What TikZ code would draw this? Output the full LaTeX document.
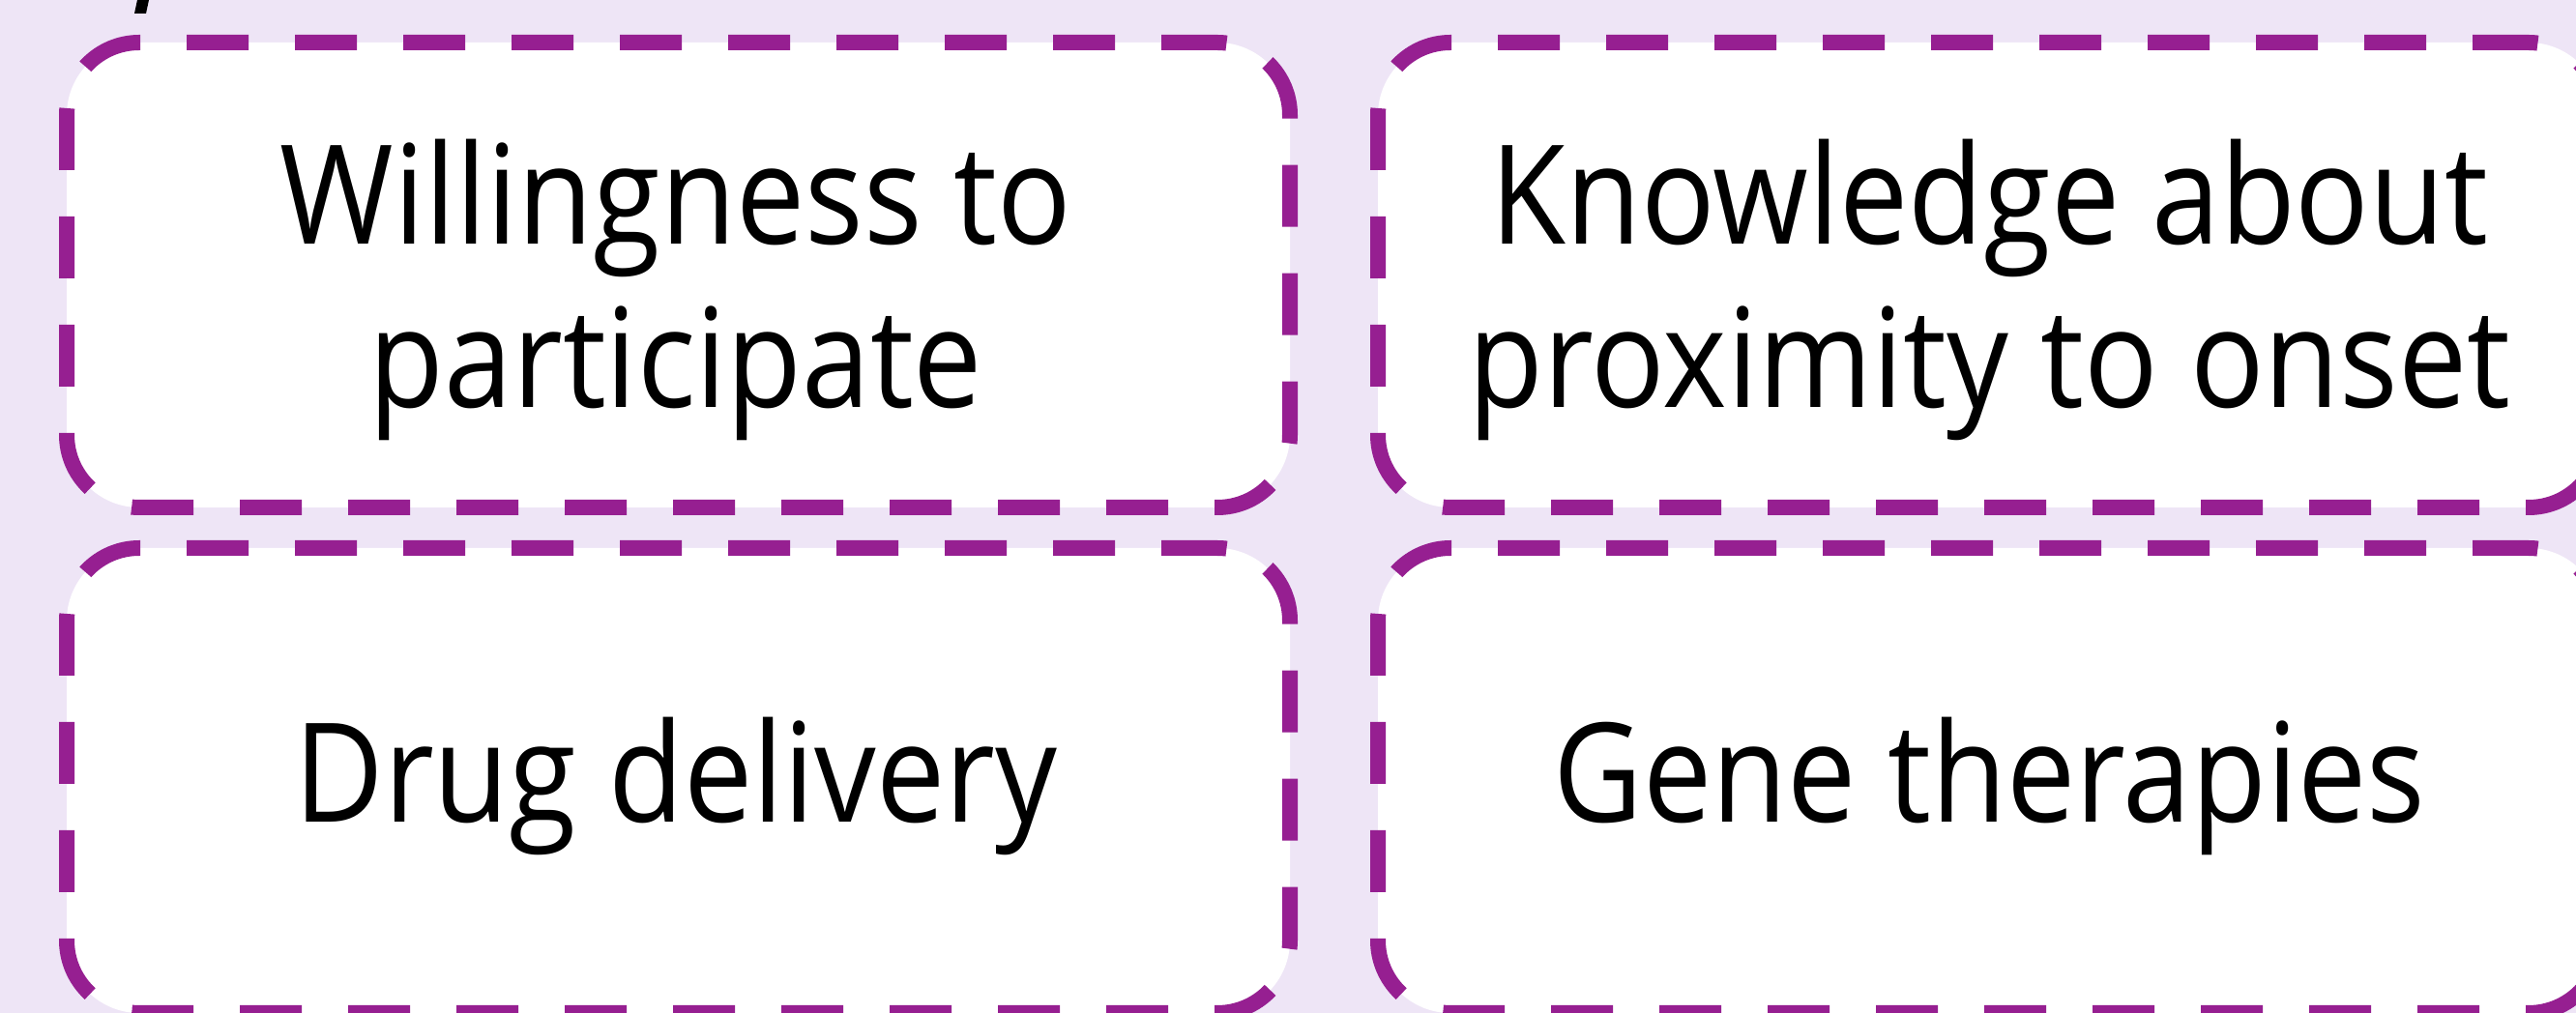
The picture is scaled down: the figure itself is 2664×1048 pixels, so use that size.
\documentclass[tikz,border=0pt]{standalone}
\usepackage{fontspec}
\setmainfont{Open Sans}[FakeStretch=0.89]
\definecolor{bgl}{RGB}{238,229,246}
\definecolor{pur}{RGB}{150,31,145}
\begin{document}
\begin{tikzpicture}[x=0.1mm,y=-0.1mm,
  cardbox/.style={draw=pur, fill=white, line width=1.6mm, rounded corners=7.5mm,
    dash pattern=on 6.4mm off 4.8mm, dash phase=0.62mm,
    minimum width=126.5mm, minimum height=48.1mm, inner sep=0pt, outer sep=0pt},
  cardtext/.style={anchor=base, align=center, inner sep=0pt, text=black,
    font=\fontsize{40.6}{48.2}\selectfont}]
\useasboundingbox (0,0) rectangle (2664,1048);
\fill[bgl] (0,0) rectangle (2664,1048);
\clip (0,0) rectangle (2664,1048);
\fill[black] (142,0) -- (154,0) -- (151,14) -- (139,14) -- cycle;
\node[cardbox] (tl) at (701.5,284.5) {};
\node[cardbox] (tr) at (2057.5,284.5) {};
\node[cardbox] (bl) at (701.5,807.5) {};
\node[cardbox] (br) at (2057.5,807.5) {};
\node[cardtext] (tlt) at (699,422) {Willingness to\\participate};
\node[cardtext] (trt) at (2057.5,422) {Knowledge about\\proximity to onset};
\node[cardtext] (blt) at (699,851) {Drug delivery};
\node[cardtext] (brt) at (2057.5,851) {Gene therapies};
\end{tikzpicture}
\end{document}
